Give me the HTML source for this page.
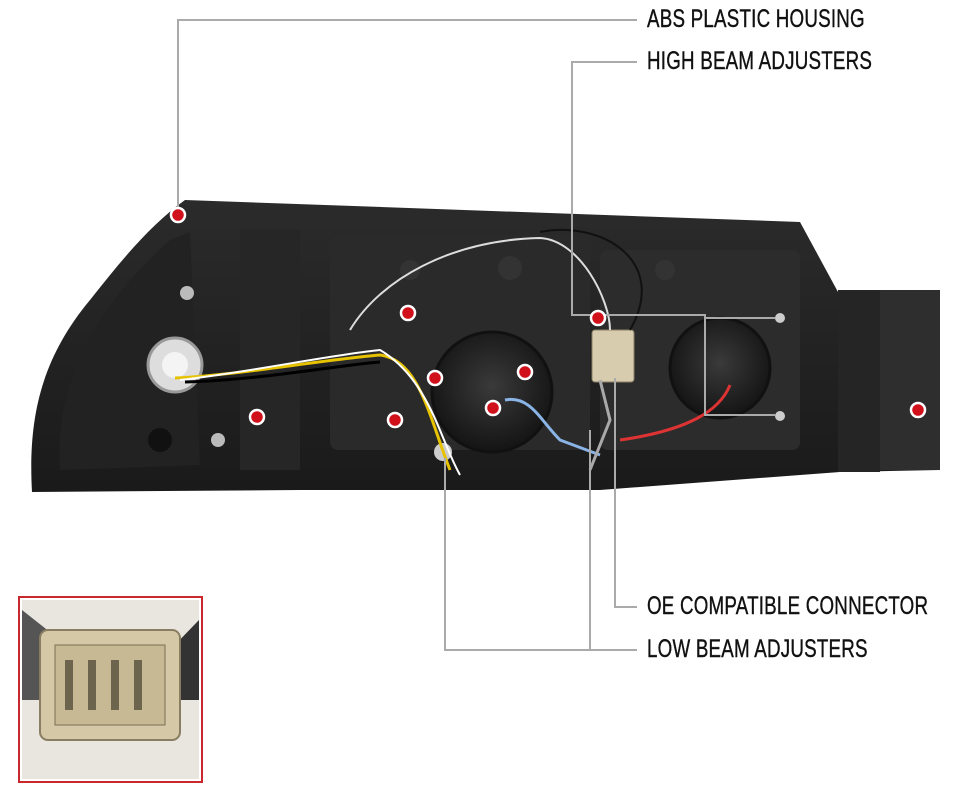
<!DOCTYPE html>
<html><head><meta charset="utf-8"><style>
html,body{margin:0;padding:0;background:#fff;}
.wrap{position:relative;width:960px;height:806px;overflow:hidden;background:#fff;font-family:"Liberation Sans",sans-serif;}
.lbl{position:absolute;left:647px;font-size:25px;color:#111;transform:scaleX(0.75);transform-origin:left center;white-space:nowrap;letter-spacing:0.3px;-webkit-text-stroke:0.4px #111;}
</style></head><body><div class="wrap">
<svg width="960" height="806" style="position:absolute;left:0;top:0">
<defs>
<radialGradient id="lens" cx="50%" cy="45%" r="55%"><stop offset="0" stop-color="#3a3a3a"/><stop offset="1" stop-color="#141414"/></radialGradient>
<linearGradient id="body" x1="0" y1="0" x2="0" y2="1"><stop offset="0" stop-color="#2b2b2b"/><stop offset="1" stop-color="#1a1a1a"/></linearGradient>
</defs>
<path d="M32,492 C28,420 40,360 90,300 C120,262 150,225 185,200 L800,222 L838,292 L940,290 L940,470 L840,472 L600,490 L300,490 Z" fill="url(#body)"/>
<path d="M60,470 C55,400 80,320 170,240 L190,232 L200,465 Z" fill="#222"/>
<rect x="330" y="235" width="260" height="215" fill="#2a2a2a" rx="8"/>
<rect x="600" y="250" width="200" height="200" fill="#2c2c2c" rx="8"/>
<rect x="240" y="230" width="60" height="240" fill="#262626"/>
<rect x="880" y="290" width="60" height="180" fill="#2e2e2e"/>
<rect x="838" y="290" width="42" height="182" fill="#252525"/>
<circle cx="492" cy="392" r="60" fill="url(#lens)" stroke="#111" stroke-width="3"/>
<circle cx="720" cy="368" r="50" fill="url(#lens)" stroke="#111" stroke-width="3"/>
<circle cx="510" cy="268" r="12" fill="#333"/>
<circle cx="410" cy="270" r="10" fill="#333"/>
<circle cx="665" cy="270" r="10" fill="#333"/>
<circle cx="175" cy="365" r="27" fill="#ddd" stroke="#999" stroke-width="3"/>
<circle cx="175" cy="365" r="13" fill="#f4f4f4"/>
<circle cx="160" cy="440" r="12" fill="#111"/>
<circle cx="187" cy="293" r="7" fill="#bbb"/><circle cx="218" cy="440" r="7" fill="#bbb"/>
<circle cx="780" cy="318" r="5" fill="#ccc"/><circle cx="780" cy="416" r="5" fill="#ccc"/>
<circle cx="443" cy="452" r="9" fill="#ccc"/>
<rect x="592" y="330" width="42" height="52" fill="#d8ccae" stroke="#8a7f66" rx="3"/>
<path d="M175,378 C240,375 320,360 380,355 C420,360 430,420 450,470" stroke="#e6c200" stroke-width="3" fill="none"/>
<path d="M180,380 C250,372 330,355 380,350 C430,380 440,440 460,475" stroke="#fff" stroke-width="2" fill="none"/>
<path d="M185,382 C260,380 340,365 380,362" stroke="#000" stroke-width="3" fill="none"/>
<path d="M350,330 C380,280 450,240 540,238 C580,240 610,300 610,330" stroke="#ddd" stroke-width="2" fill="none"/>
<path d="M540,232 C600,220 670,260 630,330" stroke="#111" stroke-width="2" fill="none"/>
<path d="M505,400 C530,395 540,420 560,440 L600,455" stroke="#8ab4e6" stroke-width="3" fill="none"/>
<path d="M730,385 C720,410 690,430 620,440" stroke="#d33" stroke-width="3" fill="none"/>
<path d="M600,380 L610,420 L590,470" stroke="#aaa" stroke-width="3" fill="none"/>
<g stroke="#aaa" stroke-width="2" fill="none">
<path d="M637,20 L178,20 L178,215"/>
<path d="M637,62 L572,62 L572,315 L705,315 L705,415 L775,415 M705,318 L775,318"/>
<path d="M637,607 L615,607 L615,378"/>
<path d="M637,650 L445,650 L445,458 M590,650 L590,430"/>
</g>
<g fill="#d0101a" stroke="#fff" stroke-width="2.5">
<circle cx="178" cy="215" r="7"/><circle cx="408" cy="313" r="7"/><circle cx="598" cy="318" r="7"/>
<circle cx="435" cy="378" r="7"/><circle cx="525" cy="372" r="7"/><circle cx="493" cy="408" r="7"/>
<circle cx="395" cy="420" r="7"/><circle cx="257" cy="417" r="7"/><circle cx="918" cy="410" r="7"/>
</g>
<rect x="19" y="597" width="183" height="185" fill="#fff" stroke="#c8282e" stroke-width="2"/>
<rect x="22" y="600" width="177" height="179" fill="#e9e6e0"/>
<path d="M22,610 L60,640 L60,700 L22,700 Z" fill="#555"/>
<path d="M199,620 L170,650 L170,700 L199,700 Z" fill="#333"/>
<rect x="40" y="630" width="140" height="110" rx="8" fill="#d4c8a6" stroke="#8a7e62" stroke-width="2"/>
<rect x="55" y="645" width="110" height="80" fill="#c6b994" stroke="#7a6f55"/>
<g fill="#6d644d"><rect x="65" y="660" width="8" height="50"/><rect x="88" y="660" width="8" height="50"/><rect x="111" y="660" width="8" height="50"/><rect x="134" y="660" width="8" height="50"/></g>
</svg>
<div class="lbl" style="top:5px">ABS PLASTIC HOUSING</div>
<div class="lbl" style="top:47px">HIGH BEAM ADJUSTERS</div>
<div class="lbl" style="top:592px">OE COMPATIBLE CONNECTOR</div>
<div class="lbl" style="top:635px">LOW BEAM ADJUSTERS</div>
</div></body></html>
